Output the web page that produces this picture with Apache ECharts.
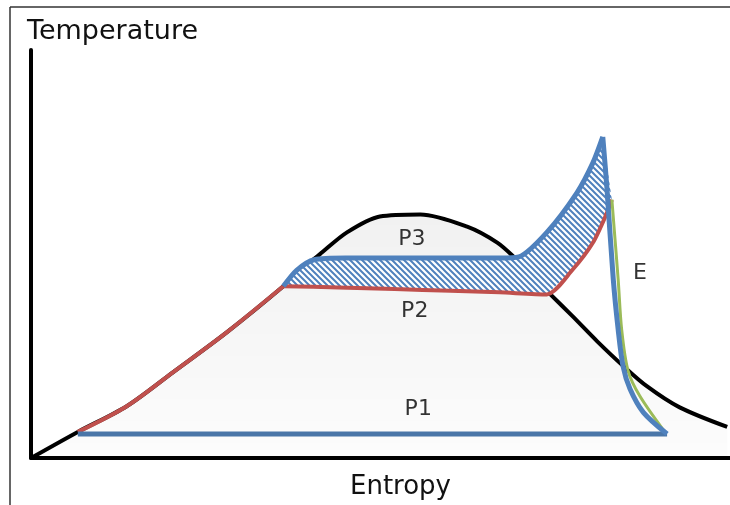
<!DOCTYPE html>
<html>
<head>
<meta charset="utf-8">
<script src="https://cdn.jsdelivr.net/npm/echarts@6/dist/echarts.min.js"></script>
<style>
  html, body { margin: 0; padding: 0; background: #fff; }
  #chart { width: 730px; height: 505px; }
</style>
</head>
<body>
<div id="chart"></div>
<script>
// entropy (x) / temperature (y), arbitrary 0-100 units
const domeCurve = [[0, 0], [6.7, 6.4], [13.7, 12.7], [20.3, 21.0], [28.0, 30.8], [36.1, 42.1],
  [38.5, 46.0], [41.3, 49.9], [45.2, 55.3], [49.9, 59.2], [55.7, 59.7], [62.4, 56.7], [66.7, 52.8],
  [69.0, 49.4], [71.5, 44.9], [74.2, 40.3], [77.5, 34.7], [81.0, 28.6], [84.7, 22.6], [88.1, 17.6],
  [92.8, 12.4], [99.6, 7.6]];
const redRise = [[6.7, 6.4], [13.7, 12.7], [20.3, 21.0], [28.0, 30.8], [36.1, 42.1]];
const redFlat = [[36.1, 42.1], [44, 41.8], [52, 41.4], [60, 41.0], [67, 40.6], [73.8, 40.1],
  [77.5, 46.2], [80.4, 52.8], [82.3, 59.7], [83.1, 63.3]];
const blueTop = [[36.1, 42.1], [38.0, 46.0], [40.5, 48.6], [45, 49.0], [52, 49.0], [60, 49.0],
  [67, 49.0], [69.8, 49.3], [73.8, 55.3], [78.1, 65.0], [80.4, 72.4], [81.8, 78.7]];
const blueDown = [[81.8, 78.7], [82.4, 66.0], [83.3, 43.8], [84.0, 31.5], [84.7, 22.5], [85.7, 16.9],
  [87.6, 11.2], [91.0, 5.9]];
const blueBottom = [[6.7, 5.9], [91.0, 5.9]];
const greenLine = [[83.1, 63.3], [84.0, 43.8], [84.5, 31.5], [85.4, 21.5], [87.1, 15.2], [90.8, 6.1]];
const labelNames = ['P3', 'P2', 'P1', 'E'];
const labelPos = [[54.5, 53.5], [54.9, 35.9], [55.4, 12.0], [87.1, 45.3]];

const fontFamily = '"DejaVu Sans", sans-serif';

// hatch pattern for the P2 -> P3 band
const hatch = document.createElement('canvas');
hatch.width = 6;
hatch.height = 6;
const hctx = hatch.getContext('2d');
hctx.fillStyle = '#fff';
hctx.fillRect(0, 0, 6, 6);
hctx.strokeStyle = '#4f81bd';
hctx.lineWidth = 2;
hctx.beginPath();
hctx.moveTo(-1, -1); hctx.lineTo(7, 7);
hctx.moveTo(-1, 5); hctx.lineTo(1, 7);
hctx.moveTo(5, -1); hctx.lineTo(7, 1);
hctx.stroke();

// band polygon: blue top going right, then red line back
const bandPoly = blueTop.concat(redFlat.slice().reverse());

const chart = echarts.init(document.getElementById('chart'));
const lineSeries = (data, color, width, smooth, z) => ({
  type: 'line', data: data, smooth: smooth, showSymbol: false,
  lineStyle: { color: color, width: width }, z: z
});
const option = {
  animation: false,
  grid: { left: 31, right: 0, top: 50, bottom: 46 },
  xAxis: {
    type: 'value', min: 0, max: 100,
    name: 'Entropy', nameLocation: 'middle', nameGap: 16,
    nameTextStyle: { fontSize: 26, color: '#111', fontFamily: fontFamily, padding: [0, 0, 0, 40] },
    axisLine: { lineStyle: { color: '#000', width: 4 } },
    axisTick: { show: false }, axisLabel: { show: false }, splitLine: { show: false }
  },
  yAxis: {
    type: 'value', min: 0, max: 100,
    name: 'Temperature', nameLocation: 'end', nameGap: 5,
    nameTextStyle: { fontSize: 27, color: '#111', fontFamily: fontFamily, align: 'left', padding: [0, 0, 0, -4] },
    axisLine: { lineStyle: { color: '#000', width: 4 } },
    axisTick: { show: false }, axisLabel: { show: false }, splitLine: { show: false }
  },
  graphic: [
    { type: 'line', shape: { x1: 10, y1: 7, x2: 730, y2: 7 }, style: { stroke: '#333', lineWidth: 1.5 } },
    { type: 'line', shape: { x1: 10, y1: 7, x2: 10, y2: 505 }, style: { stroke: '#333', lineWidth: 1.5 } }
  ],
  series: [
    Object.assign(lineSeries(domeCurve, '#000', 4, 0.3, 1), {
      areaStyle: {
        color: new echarts.graphic.LinearGradient(0, 0, 0, 1, [
          { offset: 0, color: 'rgba(0,0,0,0.08)' },
          { offset: 1, color: 'rgba(0,0,0,0.015)' }
        ])
      }
    }),
    {
      type: 'custom', data: [0], z: 2,
      renderItem: function (params, api) {
        return {
          type: 'polygon',
          shape: { points: bandPoly.map(p => api.coord(p)) },
          style: { fill: { image: hatch, repeat: 'repeat' } }
        };
      }
    },
    lineSeries(redRise, '#c0504d', 4, 0.3, 3),
    lineSeries(redFlat, '#c0504d', 4, 0.25, 3),
    lineSeries(greenLine, '#9bbb59', 3, 0.3, 3),
    lineSeries(blueBottom, '#4a76a8', 5, false, 4),
    lineSeries(blueTop, '#4f81bd', 5, 0.25, 4),
    lineSeries(blueDown, '#4f81bd', 5, 0.3, 4),
    {
      type: 'scatter', symbolSize: 0, z: 5,
      data: labelPos.map((p, i) => ({ value: p, name: labelNames[i] })),
      label: {
        show: true, position: 'inside', formatter: '{b}',
        fontSize: 22, color: '#000', fontFamily: fontFamily
      }
    }
  ]
};
chart.setOption(option);
</script>
</body>
</html>
